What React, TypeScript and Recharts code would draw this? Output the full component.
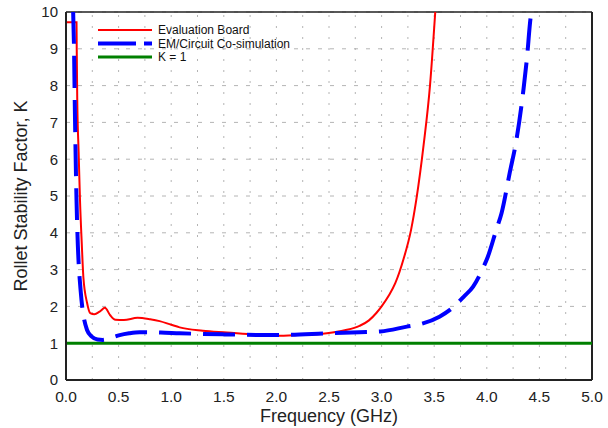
import { LineChart, Line, XAxis, YAxis, CartesianGrid, ReferenceLine, Label, Customized } from "recharts";

// Evaluation board (measured)
const boardFreq = [0, 0.1, 0.102, 0.107, 0.12, 0.133, 0.15, 0.165, 0.2, 0.23, 0.27, 0.32, 0.37, 0.42, 0.47, 0.55, 0.68, 0.8, 0.89, 1.0, 1.08, 1.3, 1.53, 1.8, 2.0, 2.2, 2.48, 2.65, 2.79, 2.88, 2.95, 3.0, 3.07, 3.13, 3.21, 3.28, 3.33, 3.4, 3.46, 3.51];
const boardK = [9.72, 9.72, 9.0, 7.6, 6.2, 4.89, 3.7, 2.8, 2.1, 1.82, 1.79, 1.86, 1.96, 1.76, 1.64, 1.63, 1.69, 1.65, 1.6, 1.5, 1.43, 1.34, 1.29, 1.23, 1.2, 1.22, 1.27, 1.35, 1.47, 1.62, 1.82, 2.0, 2.3, 2.63, 3.3, 4.08, 4.9, 6.4, 8.0, 10];

// EM/Circuit co-simulation
const simFreq = [0.068, 0.076, 0.083, 0.1, 0.14, 0.2, 0.245, 0.3, 0.35, 0.42, 0.51, 0.6, 0.7, 0.9, 1.08, 1.49, 2.0, 2.5, 2.79, 2.99, 3.24, 3.37, 3.55, 3.67, 3.78, 3.87, 3.97, 4.01, 4.09, 4.14, 4.22, 4.28, 4.35, 4.38, 4.42, 4.425];
const simK = [10, 9.06, 7.6, 4.89, 2.4, 1.36, 1.18, 1.1, 1.09, 1.14, 1.22, 1.27, 1.3, 1.29, 1.27, 1.24, 1.22, 1.27, 1.3, 1.32, 1.45, 1.52, 1.72, 1.95, 2.26, 2.54, 3.08, 3.35, 4.08, 4.53, 5.66, 6.5, 7.93, 8.7, 9.92, 10];

// K = 1 reference
const kOneFreq = [0, 5];
const kOneK = [1, 1];

const xTicks = [0, 0.5, 1, 1.5, 2, 2.5, 3, 3.5, 4, 4.5, 5];
const yTicks = [0, 1, 2, 3, 4, 5, 6, 7, 8, 9, 10];
const xGrid = [0.25, 0.5, 0.75, 1, 1.25, 1.5, 1.75, 2, 2.25, 2.5, 2.75, 3, 3.25, 3.5, 3.75, 4, 4.25, 4.5, 4.75];

const toPoints = (xs: number[], ys: number[]) => xs.map((f, i) => ({ f, k: ys[i] }));

const boardData = toPoints(boardFreq, boardK);
const simData = toPoints(simFreq, simK);
const kOneData = toPoints(kOneFreq, kOneK);

const FONT = "'Liberation Sans', Arial, sans-serif";
const RED = "#ff0000";
const BLUE = "#0000ff";
const GREEN = "#008000";

function LegendBox() {
  const items = [
    { label: "Evaluation Board", color: RED, width: 2, dash: undefined as string | undefined },
    { label: "EM/Circuit Co-simulation", color: BLUE, width: 4, dash: "38 8" },
    { label: "K = 1", color: GREEN, width: 3, dash: undefined },
  ];
  return (
    <g>
      {items.map((it, i) => {
        const y = 30 + i * 13.5;
        return (
          <g key={it.label}>
            <line x1={98} x2={152} y1={y} y2={y} stroke={it.color} strokeWidth={it.width} strokeDasharray={it.dash} />
            <text x={158} y={y + 4} fontSize={12} fontFamily={FONT} fill="#111">
              {it.label}
            </text>
          </g>
        );
      })}
    </g>
  );
}

export default function App() {
  return (
    <div style={{ position: "absolute", left: 0, top: 0, width: 608, height: 428, background: "#fff" }}>
      <LineChart width={608} height={428} margin={{ top: 12, right: 16, bottom: 0, left: 0 }}>
        <CartesianGrid vertical={false} stroke="#b4b4b4" strokeDasharray="4 8" />
        {xGrid.map((g) => (
          <ReferenceLine key={g} x={g} stroke="#b4b4b4" strokeDasharray="2 9" />
        ))}
        <XAxis
          dataKey="f"
          type="number"
          domain={[0, 5]}
          ticks={xTicks}
          allowDataOverflow
          tickFormatter={(v: number) => v.toFixed(1)}
          tickLine={false}
          tickMargin={5}
          height={48}
          axisLine={{ stroke: "#222", strokeWidth: 2 }}
          tick={{ fontSize: 15.5, fill: "#222", fontFamily: FONT }}
        >
          <Label value="Frequency (GHz)" position="insideBottom" offset={6} style={{ fontSize: 18, fill: "#222", fontFamily: FONT }} />
        </XAxis>
        <YAxis
          dataKey="k"
          type="number"
          domain={[0, 10]}
          ticks={yTicks}
          allowDataOverflow
          tickLine={false}
          width={66}
          axisLine={{ stroke: "#222", strokeWidth: 2 }}
          tick={{ fontSize: 15, fill: "#222", fontFamily: FONT }}
        >
          <Label
            value="Rollet Stability Factor, K"
            angle={-90}
            position="insideLeft"
            offset={21}
            style={{ fontSize: 18, fill: "#222", fontFamily: FONT, textAnchor: "middle" }}
          />
        </YAxis>
        <ReferenceLine y={10} stroke="#222" strokeWidth={1.5} />
        <ReferenceLine x={5} stroke="#222" strokeWidth={2} />
        <Line data={kOneData} dataKey="k" stroke={GREEN} strokeWidth={3} dot={false} isAnimationActive={false} />
        <Line data={boardData} dataKey="k" type="monotone" stroke={RED} strokeWidth={2} dot={false} isAnimationActive={false} />
        <Line
          data={simData}
          dataKey="k"
          type="monotone"
          stroke={BLUE}
          strokeWidth={4}
          strokeDasharray="32 12"
          dot={false}
          isAnimationActive={false}
        />
        <Customized component={LegendBox} />
      </LineChart>
    </div>
  );
}
